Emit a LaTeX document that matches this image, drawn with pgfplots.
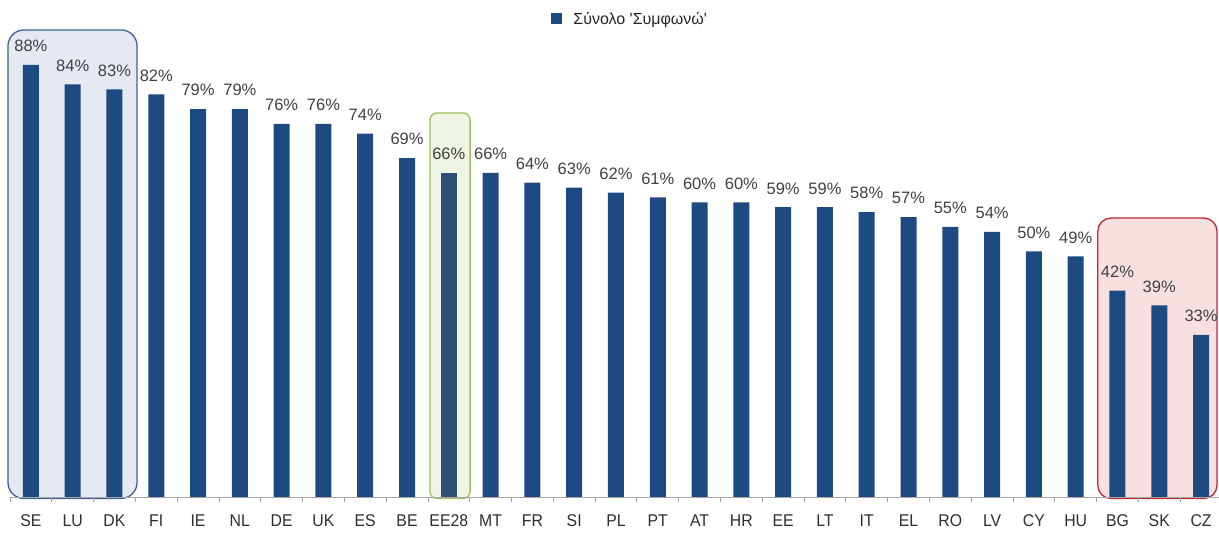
\documentclass[border=0pt]{standalone}
\usepackage{pgfplots}
\pgfplotsset{compat=1.18}
\usepackage{fontspec}
\setmainfont{Liberation Sans}[Ligatures=TeXOff]
\newfontfamily\narrowfont{Liberation Sans}[FakeStretch=0.93]

\definecolor{barblue}{HTML}{1E4A82}
\definecolor{avgbar}{HTML}{2D4F73}
\definecolor{lbl}{HTML}{404040}
\definecolor{tlbl}{HTML}{2E2E2E}
\definecolor{topedge}{HTML}{41628F}
\definecolor{topfill}{HTML}{E4E9F2}
\definecolor{avgedge}{HTML}{9CC25C}
\definecolor{avgfill}{HTML}{EEF4E6}
\definecolor{lowedge}{HTML}{C0272D}
\definecolor{lowfill}{HTML}{F8E0E0}

\pgfplotstableread{
x  v
0  88
1  84
2  83
3  82
4  79
5  79
6  76
7  76
8  74
9  69
11 66
12 64
13 63
14 62
15 61
16 60
17 60
18 59
19 59
20 58
21 57
22 55
23 54
24 50
25 49
26 42
27 39
28 33
}\countries
\pgfplotstableread{
x  v
10 66
}\average

\begin{document}
\begin{tikzpicture}
\begin{axis}[
  at={(10pt,38pt)}, anchor=south west,
  scale only axis, width=1209pt, height=497pt,
  set layers,
  xmin=-0.5, xmax=28.43, ymin=0, ymax=101.2,
  axis x line*=bottom, axis y line=none,
  x axis line style={draw=black!35, line width=0.8pt},
  xtick={0,...,28},
  xticklabels={SE,LU,DK,FI,IE,NL,DE,UK,ES,BE,EE28,MT,FR,SI,PL,PT,AT,HR,EE,LT,IT,EL,RO,LV,CY,HU,BG,SK,CZ},
  major tick length=0pt,
  minor xtick={-0.5,0.5,...,27.5},
  minor tick length=5pt,
  tick align=outside,
  minor tick style={draw=black!35, line width=0.8pt},
  xticklabel style={font=\narrowfont\fontsize{17}{19}\selectfont, text=tlbl, yshift=-14pt},
  ybar, bar width=16pt, bar shift=0pt,
  nodes near coords={\pgfmathprintnumber[assume math mode=true]{\pgfplotspointmeta}\%},
  every node near coord/.append style={font=\fontsize{16.5}{18}\selectfont, text=lbl, yshift=9.5pt},
  clip=false,
  legend style={at={(0.513,0.962)}, anchor=center, draw=none, fill=none,
    font=\fontsize{16}{18}\selectfont, text=black!85},
  legend image code/.code={\fill[barblue] (0pt,-5.5pt) rectangle (11pt,5.5pt); \path (20pt,0pt);},
]
\begin{pgfonlayer}{axis background}
  \draw[rounded corners=16pt, draw=topedge, fill=topfill, line width=1.3pt]
    (axis cs:-0.548,-0.3) rectangle (axis cs:2.54,95.1);
  \draw[rounded corners=7pt, draw=avgedge, fill=avgfill, line width=1.3pt]
    (axis cs:9.55,-0.3) rectangle (axis cs:10.51,78.2);
  \draw[rounded corners=13pt, draw=lowedge, fill=lowfill, line width=1.3pt]
    (axis cs:25.53,-0.3) rectangle (axis cs:28.38,56.8);
\end{pgfonlayer}
\addplot[fill=barblue, draw=none] table[x=x, y=v] {\countries};
\addlegendentry{Σύνολο 'Συμφωνώ'}
\addplot[fill=avgbar, draw=none, forget plot] table[x=x, y=v] {\average};
\end{axis}
\pgfresetboundingbox
\useasboundingbox (0,0) rectangle (1219pt,535pt);
\end{tikzpicture}
\end{document}
